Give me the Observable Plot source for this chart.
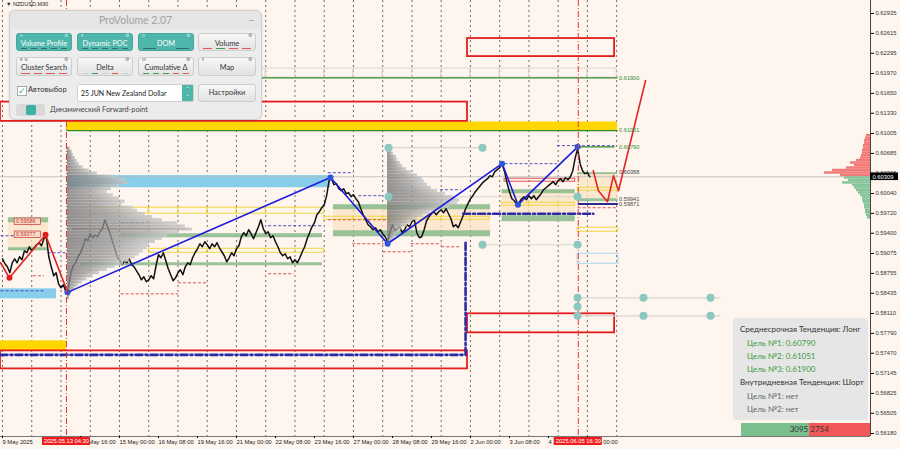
<!DOCTYPE html>
<html><head><meta charset="utf-8">
<script src="https://cdn.jsdelivr.net/npm/d3@7"></script>
<script src="https://cdn.jsdelivr.net/npm/@observablehq/plot@0.6"></script>
<style>
html,body{margin:0;padding:0;background:#fdf5ee;}
#wrap{position:relative;width:900px;height:449px;overflow:hidden;}
#wrap svg{position:absolute;left:0;top:0;}
.sym{position:absolute;left:6px;top:1px;font:5.5px "Liberation Sans",Arial,sans-serif;color:#222;}
.pv{position:absolute;left:9px;top:10px;width:251px;height:108px;background:#ececec;border:1px solid #cfcfcf;border-radius:6px;font-family:Lato,"Open Sans",sans-serif;box-shadow:0 0 2px rgba(0,0,0,.15);}
.pv .tt{position:absolute;left:0;right:0;top:0;height:18px;line-height:18px;text-align:center;color:#a3a3a3;font-size:10.5px;background:#e5e5e5;border-radius:6px 6px 0 0;}
.pv .mn{position:absolute;right:7px;top:-3px;color:#999;font-size:11px;}
.b{position:absolute;box-sizing:border-box;border-radius:3px;text-align:center;font-size:7.3px;}
.b.t{background:#4eb6ab;color:#fff;border:1px solid #46a79d;}
.b.g{background:linear-gradient(#f7f7f7,#e2e2e2);color:#333;border:1px solid #cdcdcd;}
.b .l{position:absolute;left:0;right:0;top:5.5px;line-height:8px;white-space:nowrap;}
.b .k{position:absolute;left:3px;top:-0.5px;font-size:4px;line-height:4.5px;opacity:.8;}
.b .c{position:absolute;right:3px;top:-0.5px;font-size:4.5px;line-height:4.5px;opacity:.7;}
.b .d{position:absolute;left:4px;right:4px;bottom:1.5px;height:1px;display:flex;gap:4px;}
.b .d i{flex:1;height:1px;}
.info{position:absolute;left:733px;top:318px;width:135px;height:102px;background:#e6e6e6;border-radius:3px;font-family:Lato,"Noto Sans",sans-serif;font-size:8px;}
.info div{position:absolute;line-height:10px;white-space:nowrap;}
.vb{position:absolute;top:423px;height:13px;font:8px Lato,sans-serif;line-height:13px;color:#333;box-sizing:border-box;}
</style></head><body><div id="wrap"></div>
<script>
// ---------------- data ----------------
// 2-hour closes of NZDUSD starting 9 May 2025 00:00 (trading hours)
const closes = [
0.58990,0.58910,0.58861,0.58765,0.58926,0.58990,0.58926,0.59022,0.58974,0.59119,
0.59087,0.59183,0.59119,0.59167,0.59216,0.59248,0.59200,0.59312,0.59344,0.59022,
0.58861,0.58717,0.58765,0.58588,0.58523,0.58572,0.58459,0.58523,0.58749,0.58878,
0.58926,0.59022,0.59087,0.59183,0.59312,0.59280,0.59393,0.59328,0.59377,0.59344,
0.59425,0.59473,0.59618,0.59522,0.59409,0.59280,0.59167,0.59022,0.58974,0.58894,
0.58958,0.58926,0.58990,0.58894,0.58861,0.58797,0.58733,0.58652,0.58700,0.58620,
0.58652,0.58717,0.58668,0.58878,0.59055,0.59006,0.59087,0.58958,0.58829,0.58733,
0.58636,0.58684,0.58765,0.58813,0.58733,0.58861,0.58926,0.58894,0.59006,0.59087,
0.59151,0.59232,0.59183,0.59264,0.59216,0.59151,0.59232,0.59183,0.59248,0.59167,
0.59103,0.59039,0.58942,0.59006,0.59087,0.59039,0.59151,0.59200,0.59344,0.59409,
0.59361,0.59457,0.59393,0.59312,0.59409,0.59505,0.59618,0.59473,0.59393,0.59425,
0.59328,0.59361,0.59264,0.59183,0.59087,0.59039,0.59071,0.58990,0.59022,0.58926,
0.58974,0.58926,0.59006,0.59103,0.59183,0.59312,0.59409,0.59505,0.59570,0.59699,
0.59747,0.59811,0.59860,0.60005,0.60246,0.60278,0.60182,0.60198,0.60117,0.60085,
0.60117,0.60037,0.60053,0.59988,0.60021,0.59956,0.59908,0.59795,0.59699,0.59618,
0.59538,0.59505,0.59457,0.59489,0.59425,0.59457,0.59393,0.59344,0.59264,0.59409,
0.59538,0.59441,0.59473,0.59505,0.59409,0.59457,0.59538,0.59505,0.59586,0.59618,
0.59409,0.59328,0.59344,0.59457,0.59602,0.59666,0.59715,0.59747,0.59699,0.59747,
0.59779,0.59731,0.59795,0.59715,0.59634,0.59505,0.59538,0.59489,0.59586,0.59683,
0.59795,0.59876,0.59956,0.60005,0.60069,0.60117,0.60166,0.60214,0.60246,0.60278,
0.60327,0.60310,0.60391,0.60423,0.60455,0.60520,0.60391,0.60214,0.60069,0.59956,
0.59924,0.59860,0.59892,0.59956,0.59988,0.59940,0.60005,0.59956,0.60005,0.59940,
0.59988,0.60037,0.60101,0.60133,0.60166,0.60198,0.60230,0.60182,0.60246,0.60278,
0.60230,0.60294,0.60262,0.60310,0.60407,0.60616,0.60761,0.60520,0.60407,0.60359,
0.60375,0.60309];
const closeStepHours = 2;
const currentPrice = 0.60309;

const yTicks = [0.62935,0.62615,0.62295,0.61970,0.61650,0.61330,0.61005,0.60685,0.60365,0.60040,0.59720,
  0.59400,0.59075,0.58755,0.58435,0.58110,0.57790,0.57470,0.57145,0.56825,0.56505,0.56180];
const xTickHours  = [0,64,96,128,160,192,224,256,288,320,352,384,416,448,480];
const xTickLabels = ["9 May 2025","13 May 16:00","15 May 00:00","16 May 08:00","19 May 16:00",
  "21 May 00:00","22 May 08:00","23 May 16:00","27 May 00:00","28 May 08:00","29 May 16:00",
  "2 Jun 00:00","3 Jun 08:00","4 Jun 16:00","6 Jun 00:00"];
const timeMarkers = [{h:52.5,label:"2025.05.13 04:30"},{h:472.5,label:"2025.06.05 16:30"}];
const dayLines = [0,24,48,72,96,120,144,168,192,216,240,264,288,312,336,360,384,408,432,456,480,504];

// zigzags [hour, price]
const blueZigzag = [[53.3,0.58450],[269.2,0.60297],[316,0.59232],[410,0.60520],[423,0.59860],[472,0.60790]];
const redZigzagPast = [[-1.6,0.58926],[5.7,0.58684],[35.3,0.59377],[53.3,0.58459]];
const redForecast = [[484.8,0.60407],[489,0.60085],[496.5,0.59908],[501.4,0.60327],[505.5,0.60085],[527.7,0.61856]];

// zones [t1, t2, p1, p2]
const redBoxes = [[381.6,502.3,0.62532,0.62242],[-1.64,381.6,0.61510,0.61200],[381.6,502.3,0.58105,0.57799],[-1.64,381.6,0.57509,0.57219]];
const goldZones = [[52.5,504.7,0.61190,0.61040],[-1.64,52.5,0.57670,0.57509]];
const skyZones = [[53.3,269.2,0.60327,0.60133],[-1.64,44.3,0.58507,0.58346]];
const greenBands = [[97.3,262.6,0.59393,0.59328],[64,262.6,0.58926,0.58878],[4.9,37.8,0.59650,0.59570],[4.9,37.8,0.59167,0.59119],
  [271.6,400.5,0.59860,0.59779],[271.6,400.5,0.59441,0.59344],[410,470,0.60101,0.60037],[410,470,0.59683,0.59586],
  [472,505,0.60375,0.60343],[472,505,0.59956,0.59908]];
const beigeZones = [[271.6,400.5,0.59811,0.59441],[4.9,37.8,0.59650,0.59119],[410,470,0.60069,0.59666],[472,505,0.60343,0.59956]];
const yellowBoxRows = [
  {p1:0.59811,p2:0.59715,days:[[72,96],[96,120],[120,144],[144,168],[168,192],[192,216],[216,240],[240,264]]},
  {p1:0.59151,p2:0.59087,days:[[120,144],[144,168],[168,192],[192,216],[216,240],[240,264]]},
  {p1:0.59666,p2:0.59618,days:[[264,288],[288,312],[312,336],[336,360],[360,384],[384,400]]},
  {p1:0.59892,p2:0.59844,days:[[410,432],[432,456],[456,470]]},
  {p1:0.60133,p2:0.60085,days:[[472,505]]},
  {p1:0.59489,p2:0.59425,days:[[472,505]]}];
const greyBoxRow = {p1:0.62049,p2:0.61904,days:[[56,72],[72,96],[96,120],[120,144],[144,168],[168,192],[192,216],[216,240],
  [240,264],[264,288],[288,312],[312,336],[336,360],[360,384],[384,408],[408,432],[432,456],[456,480],[480,504]]};
const lightBlueBoxes = [[472,505.5,0.59071,0.58910]];
const smallRedBoxes = [[412,470,0.60278,0.60230]];

// lines [t1, t2, price]
const targetLines = [[53.3,504.7,0.61900],[52.5,504.7,0.61051],[472,502.3,0.60790]];
const navyLevel = [[472,505,0.59871]];
const navyDashes = [[267,288,0.60375],[292,313,0.60005],[359,376,0.60101],[97,122,0.59570],[218,263,0.59522],
  [412,455,0.60520],[455,502,0.60810],[-1.64,15,0.59361],[37,53,0.59087],[-1.64,35,0.58475]];
const redDashes = [[25,34,0.58717],[144,168,0.58604],[97,144,0.58426],[218,239,0.58749],[287,313,0.59232],
  [312,335,0.59103],[335,360,0.59232],[360,376,0.59183],[267,316,0.59618],[472,505,0.59811]];
const pocLines = [[57.4,152.6,0.59473]];
const faintLines = [[316.8,393.9,0.60777],[316.8,471.9,0.59988],[393.9,471.9,0.59216],[471.9,589,0.58362],[471.9,589,0.58073]];
const tealDots = [[316.8,0.60777],[393.9,0.60777],[316.8,0.59988],[471.9,0.59988],[393.9,0.59216],[471.9,0.59216],
  [471.9,0.58362],[526,0.58362],[581,0.58362],[471.9,0.58217],[471.9,0.58073],[526,0.58073],[581,0.58073]];
const blueDashDotA = [[-1.64,0.57445],[380,0.57445],[380,0.59280]];
const blueDashDotB = [[378,0.59715],[484.8,0.59715]];

// labels
const targetLabels = [{p:0.61900,t:"0.61900"},{p:0.61051,t:"0.61051"},{p:0.60790,t:"0.60790"}];
const levelLabels = [{p:0.60388,t:"0.60388"},{p:0.59941,t:"0.59941"},{p:0.59871,t:"0.59871"}];
const leftTags = [{p:0.59586,t:"0.59586"},{p:0.59377,t:"0.59377"}];

// volume profiles [price, volume]
const leftProfileStart = 53.3;
const leftProfile = [[0.6076,3],[0.6071,5],[0.6066,6],[0.6061,8],[0.6056,10],[0.6051,12],[0.6046,16],[0.6041,22],
  [0.6036,30],[0.6031,48],[0.6026,58],[0.6021,62],[0.6016,52],[0.6011,44],[0.6006,40],[0.6001,46],[0.5996,52],
  [0.5991,58],[0.5986,55],[0.5981,66],[0.5976,70],[0.5971,78],[0.5966,85],[0.5961,95],[0.5956,110],[0.5951,118],
  [0.5946,125],[0.5941,112],[0.5936,100],[0.5931,95],[0.5926,88],[0.5921,82],[0.5916,80],[0.5911,76],[0.5906,72],
  [0.5901,68],[0.5896,62],[0.5891,56],[0.5886,48],[0.5881,40],[0.5876,32],[0.5871,26],[0.5866,20],[0.5861,15],
  [0.5856,11],[0.5851,8],[0.5846,5],[0.5841,3],[0.5836,2]];
const midProfileStart = 316;
const midProfile = [[0.6078,3],[0.6073,4],[0.6068,6],[0.6063,9],[0.6058,10],[0.6053,13],[0.6048,15],[0.6043,19],
  [0.6038,24],[0.6033,30],[0.6028,35],[0.6023,37],[0.6018,40],[0.6013,44],[0.6008,50],[0.6003,58],[0.5998,66],
  [0.5993,72],[0.5988,70],[0.5983,62],[0.5978,50],[0.5973,42],[0.5968,36],[0.5963,30],[0.5958,24],[0.5953,20],
  [0.5948,15],[0.5943,12],[0.5938,9],[0.5933,7],[0.5928,5],[0.5923,3]];
const rightProfile = [[0.6097,4],[0.6093,5],[0.6089,6],[0.6085,6],[0.6081,7],[0.6077,7],[0.6073,8],[0.6069,8],
  [0.6065,9],[0.6061,10],[0.6057,14],[0.6053,20],[0.6049,16],[0.6045,24],[0.6041,38],[0.6037,46],[0.6033,30],
  [0.6029,26],[0.6025,22],[0.6021,28],[0.6017,18],[0.6013,16],[0.6009,14],[0.6005,12],[0.6001,10],[0.5997,8],
  [0.5993,8],[0.5989,7],[0.5985,6],[0.5981,6],[0.5977,5],[0.5973,5],[0.5969,4],[0.5965,3]];

const buyVolume = 3095, sellVolume = 2754;

// ---------------- chart ----------------
const xMin = -1.64, xMax = 712.3, yMin = 0.561318, yMax = 0.631441;
const frameW = 870, frameH = 436;
const pxH = (xMax - xMin) / frameW;     // hours per pixel
const ppx = (yMax - yMin) / frameH;     // price per pixel
const volUnit = pxH;                    // one volume unit drawn as one pixel
const tickLabel = new Map(xTickHours.map((h, i) => [h, xTickLabels[i]]));
const fmt5 = d3.format(".5f");
const flatBoxes = rows => rows.flatMap(r => r.days.map(d => [d[0], d[1], r.p1, r.p2]));
const R = (data, o) => Plot.rect(data, {x1: d => d[0], x2: d => d[1], y1: d => d[2], y2: d => d[3], ...o});
const H = (data, o) => Plot.link(data, {x1: d => d[0], x2: d => d[1], y1: d => d[2], y2: d => d[2], ...o});
const profileRows = (data, start, step) => Plot.rect(data, {
  x1: start, x2: d => start + d[1] * volUnit,
  y1: d => d[0] - step / 2, y2: d => d[0] + step / 2,
  fill: "url(#pg)", fillOpacity: 0.82});

const green = "#2e8b2e";
const chart = Plot.plot({
  width: 900, height: 449,
  marginTop: 0, marginBottom: 13, marginLeft: 0, marginRight: 30,
  x: {domain: [xMin, xMax], axis: null},
  y: {domain: [yMin, yMax], axis: null},
  style: {background: "#fdf5ee", fontFamily: "'Liberation Sans', Arial, sans-serif", fontSize: "6px", overflow: "visible"},
  marks: [
    Plot.ruleX(dayLines, {stroke: "#4a4a4a", strokeWidth: 0.8, strokeDasharray: "2,3"}),
    R(flatBoxes([greyBoxRow]), {fill: "none", stroke: "#dcd3cf", strokeWidth: 0.9}),
    R(beigeZones, {fill: "#fbe2c0", fillOpacity: 0.7}),
    R(skyZones, {fill: "#87ceeb"}),
    R(goldZones, {fill: "#ffd700"}),
    R(greenBands, {fill: "#8fbc8f", fillOpacity: 0.9}),
    R(flatBoxes(yellowBoxRows), {fill: "none", stroke: "#f0d640", strokeWidth: 1}),
    R(lightBlueBoxes, {fill: "none", stroke: "#a9d6ea", strokeWidth: 1}),
    R(smallRedBoxes, {fill: "none", stroke: "#e05050", strokeWidth: 1}),
    R(redBoxes, {fill: "none", stroke: "#e41e1e", strokeWidth: 1.8}),
    Plot.ruleY([currentPrice], {stroke: "#b9b9b9", strokeWidth: 0.8}),
    H(faintLines, {stroke: "#d9d4d0", strokeWidth: 1.2}),
    H(navyDashes, {stroke: "#3a3ac8", strokeWidth: 0.9, strokeDasharray: "3,2"}),
    H(redDashes, {stroke: "#d84040", strokeWidth: 0.9, strokeDasharray: "3,2"}),
    H(pocLines, {stroke: "#b03030", strokeWidth: 0.9}),
    H(targetLines, {stroke: green, strokeWidth: 1.4}),
    H(navyLevel, {stroke: "#2a2a8a", strokeWidth: 2}),
    Plot.line(closes, {x: (d, i) => i * closeStepHours, y: d => d, stroke: "#111", strokeWidth: 1.5}),
    profileRows(leftProfile, leftProfileStart, 0.0005),
    profileRows(midProfile, midProfileStart, 0.0005),
    Plot.line(blueZigzag, {x: d => d[0], y: d => d[1], stroke: "#1c1cdc", strokeWidth: 1.6}),
    Plot.dot(blueZigzag, {x: d => d[0], y: d => d[1], r: 3, fill: "#2a55e0"}),
    Plot.line(redZigzagPast, {x: d => d[0], y: d => d[1], stroke: "#e02020", strokeWidth: 1.6}),
    Plot.dot(redZigzagPast.slice(1, 3), {x: d => d[0], y: d => d[1], r: 3, fill: "#e02020"}),
    Plot.line(redForecast, {x: d => d[0], y: d => d[1], stroke: "#e42424", strokeWidth: 1.6}),
    Plot.line(blueDashDotA, {x: d => d[0], y: d => d[1], stroke: "#2b2ba8", strokeWidth: 2.6, strokeDasharray: "7,3,2,3"}),
    Plot.line(blueDashDotB, {x: d => d[0], y: d => d[1], stroke: "#2b2ba8", strokeWidth: 2.6, strokeDasharray: "7,3,2,3"}),
    Plot.ruleX(timeMarkers, {x: "h", stroke: "#e03a3a", strokeWidth: 1, strokeDasharray: "6,2,1,2"}),
    Plot.dot(tealDots, {x: d => d[0], y: d => d[1], r: 4, fill: "#8cc8c0"}),
    Plot.rect(rightProfile, {x1: d => xMax - d[1] * volUnit, x2: xMax, y1: d => d[0] - 0.0002, y2: d => d[0] + 0.0002,
      fill: d => d[0] > currentPrice ? "#f27a7a" : "#86c49b"}),
    Plot.text(targetLabels, {x: 506, y: "p", text: "t", textAnchor: "start", fill: green, fontSize: 5.6}),
    Plot.text(levelLabels, {x: 506, y: "p", text: "t", textAnchor: "start", fill: "#444", fontSize: 5.6}),
    Plot.rect(leftTags, {x1: 10, x2: 31.5, y1: d => d.p - 3.2 * ppx, y2: d => d.p + 3.2 * ppx, fill: "#f7dcc6", stroke: "#d04848", strokeWidth: 0.8}),
    Plot.text(leftTags, {x: 11, y: "p", text: "t", textAnchor: "start", fill: "#c83030", fontSize: 5.4}),
    Plot.ruleX([xMax], {stroke: "#444", strokeWidth: 1}),
    Plot.ruleY([yMin], {stroke: "#777", strokeWidth: 1}),
    Plot.axisY(yTicks, {anchor: "right", tickSize: 3, tickPadding: 2, tickFormat: fmt5, fontSize: 5.8, fill: "#333", label: null}),
    Plot.axisX(xTickHours, {anchor: "bottom", tickSize: 2, tickPadding: 1, tickFormat: h => tickLabel.get(h), textAnchor: "start", fontSize: 5.8, fill: "#222", label: null}),
    Plot.rect(timeMarkers, {x1: d => d.h - 24 * pxH, x2: d => d.h + 24 * pxH, y1: yMin - 1 * ppx, y2: yMin - 9 * ppx, fill: "#ee1c1c"}),
    Plot.text(timeMarkers, {x: "h", y: yMin - 5 * ppx, text: "label", fill: "#fff", fontSize: 5.8}),
    Plot.rect([currentPrice], {x1: xMax, x2: xMax + 28 * pxH, y1: d => d - 3.8 * ppx, y2: d => d + 3.8 * ppx, fill: "#000"}),
    Plot.text([currentPrice], {x: xMax, y: d => d, dx: 2, text: d => fmt5(d), textAnchor: "start", fill: "#fff", fontSize: 5.8})
  ]
});
const ns = "http://www.w3.org/2000/svg";
const defs = document.createElementNS(ns, "defs");
defs.innerHTML = '<linearGradient id="pg" x1="0" x2="1" y1="0" y2="0"><stop offset="0" stop-color="#7a7a7a"/><stop offset="0.55" stop-color="#9c9c9c"/><stop offset="1" stop-color="#c9c9c9"/></linearGradient>';
chart.insertBefore(defs, chart.firstChild);
const wrap = document.getElementById("wrap");
wrap.appendChild(chart);

// ---------------- overlays (terminal widgets) ----------------
const dash = (cols) => '<span class="d">' + cols.map(c => `<i style="background:${c}"></i>`).join("") + '</span>';
const btn = (left, top, w, h, label, kind, key, marks) =>
  `<div class="b ${kind}" style="left:${left}px;top:${top}px;width:${w}px;height:${h}px">` +
  (key ? `<span class="k">${key}</span>` : "") + `<span class="c">⚙</span>` +
  `<span class="l">${label}</span>` + (marks ? dash(marks) : "") + `</div>`;
const dk = "#2d6f69", rd = "#e05a5a", gn = "#3aa04a", gy = "#cfcfcf";
const panel = `<div class="sym">▼ NZDUSD,M30</div>
<div class="pv"><div class="tt">ProVolume 2.07</div><div class="mn">_</div>
${btn(6,22,56,18,"Volume Profile","t","V",[dk,dk,dk,dk,dk])}
${btn(67,22,56,18,"Dynamic POC","t","P",[dk,dk,dk,dk,dk])}
${btn(128,22,56,18,"DOM","t","D",[dk,"transparent",dk])}
${btn(188,22,58,18,"Volume","g","",[rd,gn,rd,rd])}
${btn(6,46,56,19,"Cluster Search","g","R &nbsp;N",[rd,rd,rd,rd])}
${btn(67,46,56,19,"Delta","g","",[gy,gn,gy,rd,gy])}
${btn(128,46,56,19,"Cumulative Δ","g","M",[gn,gn,gn,rd,rd])}
${btn(188,46,58,19,"Map","g","F",null)}
<div style="position:absolute;left:7px;top:75px;width:8px;height:8px;background:#fff;border:1px solid #aaa;color:#3aa89e;font-size:9px;line-height:7px;">✓</div>
<div style="position:absolute;left:18px;top:74px;font-size:7.5px;color:#333;line-height:10px;">Автовыбор</div>
<div style="position:absolute;left:67px;top:73px;width:117px;height:18px;background:#fff;border:1px solid #d0d0d0;box-sizing:border-box;border-radius:2px;">
 <div style="position:absolute;left:3px;top:4px;font-size:7px;color:#222;line-height:9px;white-space:nowrap;">25 JUN New Zealand Dollar</div>
 <div style="position:absolute;right:0;top:0;width:11px;height:16px;background:#4eb6ab;color:#fff;font-size:6px;line-height:8px;text-align:center;">ˆ<br>ˇ</div></div>
<div class="b g" style="left:188px;top:73px;width:58px;height:18px"><span class="l" style="top:4px">Настройки</span></div>
<div style="position:absolute;left:6px;top:93px;width:29px;height:12px;background:#d9d9d9;border-radius:3px;"><div style="position:absolute;left:10px;top:1px;width:10px;height:10px;background:#3fb0a6;border-radius:2px;"></div></div>
<div style="position:absolute;left:40px;top:94px;font-size:7.3px;color:#444;line-height:10px;white-space:nowrap;">Динамический Forward-point</div>
</div>`;
const info = `<div class="info">
<div style="left:7px;top:6px;color:#333">Среднесрочная Тенденция: Лонг</div>
<div style="left:14px;top:20px;color:#3c9b3c">Цель №1: 0.60790</div>
<div style="left:14px;top:33px;color:#3c9b3c">Цель №2: 0.61051</div>
<div style="left:14px;top:46px;color:#3c9b3c">Цель №3: 0.61900</div>
<div style="left:7px;top:59px;color:#333">Внутридневная Тенденция: Шорт</div>
<div style="left:14px;top:73px;color:#666">Цель №1: нет</div>
<div style="left:14px;top:86px;color:#666">Цель №2: нет</div></div>`;
const barLeft = 741, barW = 129;
const gW = barW * buyVolume / (buyVolume + sellVolume);
const bar = `<div class="vb" style="left:${barLeft}px;width:${gW}px;background:#7cbf8f;text-align:right;padding-right:1px">${buyVolume}</div>
<div class="vb" style="left:${barLeft + gW}px;width:${barW - gW}px;background:#f25757;padding-left:1px">${sellVolume}</div>`;
wrap.insertAdjacentHTML("beforeend", panel + info + bar);
</script>
</body></html>
